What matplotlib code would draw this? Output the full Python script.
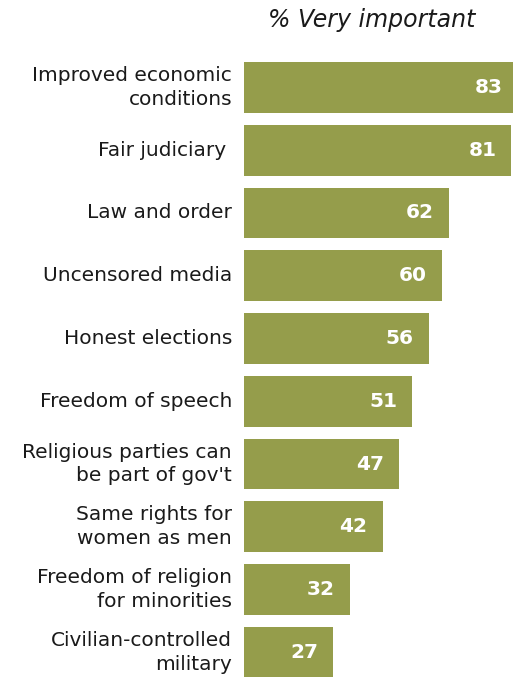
import matplotlib.pyplot as plt

# Share saying each item is very important
labels = [
    "Improved economic\nconditions",
    "Fair judiciary ",
    "Law and order",
    "Uncensored media",
    "Honest elections",
    "Freedom of speech",
    "Religious parties can\nbe part of gov't",
    "Same rights for\nwomen as men",
    "Freedom of religion\nfor minorities",
    "Civilian-controlled\nmilitary",
]
values = [83, 81, 62, 60, 56, 51, 47, 42, 32, 27]

bar_color = "#959D4B"
W, H = 513, 677

fig = plt.figure(figsize=(W / 100, H / 100), dpi=100)
row = 62.75
top_px = 87.5 - row / 2
bottom_px = top_px + row * len(values)
ax = fig.add_axes([244 / W, 1 - bottom_px / H, 1 - 244 / W, (bottom_px - top_px) / H])

ypos = list(range(len(values)))
ax.barh(ypos, values, height=0.81, color=bar_color)
ax.set_xlim(0, (W - 244) / 3.3)
ax.set_ylim(len(values) - 0.5, -0.5)
ax.axis("off")

for y, v, lab in zip(ypos, values, labels):
    ax.annotate(str(v), (v, y), xytext=(-15, 0), textcoords="offset pixels",
                ha="right", va="center", color="white", fontsize=14.5,
                fontweight="bold", annotation_clip=False)
    ax.annotate(lab, (0, y), xytext=(-12, 0), textcoords="offset pixels",
                ha="right", va="center", color="#1a1a1a", fontsize=14.5,
                linespacing=1.3, multialignment="right", annotation_clip=False)

fig.text(372 / W, 1 - 20 / H, "% Very important", ha="center", va="center",
         fontsize=17, style="italic", color="#1a1a1a")

fig.savefig("out.png", dpi=100)
